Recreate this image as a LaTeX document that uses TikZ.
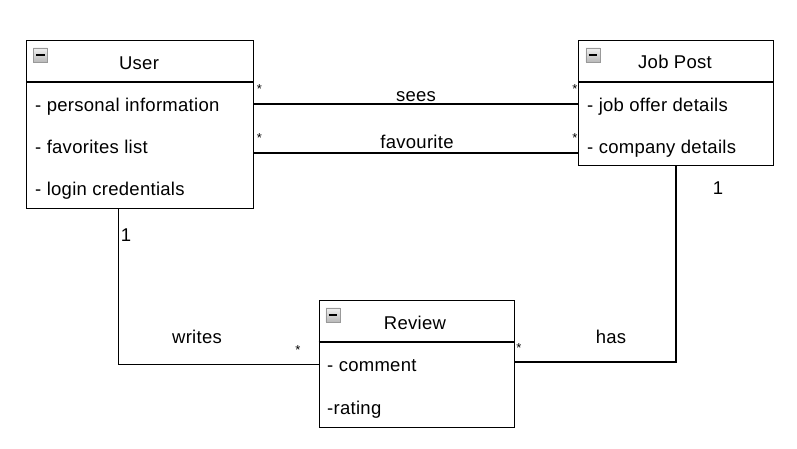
\documentclass[tikz,border=0pt]{standalone}
\usepackage{fontspec}
\setmainfont{Liberation Sans}[LetterSpace=1.5]
\begin{document}
\begin{tikzpicture}[x=1pt,y=-1pt,
  classbox/.style={draw=black,line width=1.3pt,fill=white,anchor=north west,inner sep=0pt},
  conn/.style={draw=black,line width=1.3pt},
  title/.style={font=\fontsize{18.5}{20}\selectfont,inner sep=0pt,anchor=base},
  attr/.style={font=\fontsize{18.5}{20}\selectfont,inner sep=0pt,anchor=base west},
  lbl/.style={font=\fontsize{18.5}{20}\selectfont,inner sep=0pt,anchor=base},
  mult/.style={font=\fontsize{13}{14}\selectfont,inner sep=0pt},
  icon/.style={draw=gray!80,line width=0.6pt,top color=gray!10,bottom color=gray!55,anchor=north west,minimum width=14pt,minimum height=14pt,inner sep=0pt}
]
\useasboundingbox (0,0) rectangle (797,448);

% User
\node[classbox,minimum width=227pt,minimum height=168pt] (user) at (26,40) {};
\draw[conn] (user.west |- 0,82) -- (user.east |- 0,82);
\node[icon] (ui) at (33,47.5) {};
\draw[line width=2pt] ([xshift=3pt]ui.west) -- ([xshift=-3pt]ui.east);
\node[title] (ut) at (139,69) {User};
\node[attr] (u1) at (35,111.5) {- personal information};
\node[attr] (u2) at (35,153.3) {- favorites list};
\node[attr] (u3) at (35,195) {- login credentials};

% Job Post
\node[classbox,minimum width=195pt,minimum height=125pt] (job) at (578,40) {};
\draw[conn] (job.west |- 0,82) -- (job.east |- 0,82);
\node[icon] (ji) at (585.5,47.5) {};
\draw[line width=2pt] ([xshift=3pt]ji.west) -- ([xshift=-3pt]ji.east);
\node[title] (jt) at (675,68.5) {Job Post};
\node[attr] (j1) at (587,111.3) {- job offer details};
\node[attr] (j2) at (587,153.3) {- company details};

% Review
\node[classbox,minimum width=195pt,minimum height=127pt] (rev) at (318.5,300) {};
\draw[conn] (rev.west |- 0,342) -- (rev.east |- 0,342);
\node[icon] (ri) at (325.5,307.5) {};
\draw[line width=2pt] ([xshift=3pt]ri.west) -- ([xshift=-3pt]ri.east);
\node[title] (rt) at (415,329) {Review};
\node[attr] (r1) at (327,371.5) {- comment};
\node[attr] (r2) at (327,414.5) {-rating};

% sees
\draw[conn] (user.east |- 0,104) -- (job.west |- 0,104);
\node[lbl] (sees) at (416,101) {sees};
\node[mult] (s1) at (259.5,89) {*};
\node[mult] (s2) at (575,89) {*};

% favourite
\draw[conn] (user.east |- 0,153) -- (job.west |- 0,153);
\node[lbl] (fav) at (417,148.5) {favourite};
\node[mult] (f1) at (259.5,138) {*};
\node[mult] (f2) at (575,138) {*};

% writes
\coordinate (wc) at (118.5,364.5);
\draw[conn] (user.south -| wc) -- (wc) -- (rev.west |- wc);
\node[lbl] (writes) at (197,343.3) {writes};
\node[lbl] (w1) at (126,241) {1};
\node[mult] (w2) at (298,350) {*};

% has
\coordinate (hc) at (676,362);
\draw[conn] (rev.east |- hc) -- (hc) -- (job.south -| hc);
\node[lbl] (has) at (611,343.3) {has};
\node[mult] (h1) at (519,348) {*};
\node[lbl] (h2) at (718,194) {1};
\end{tikzpicture}
\end{document}
